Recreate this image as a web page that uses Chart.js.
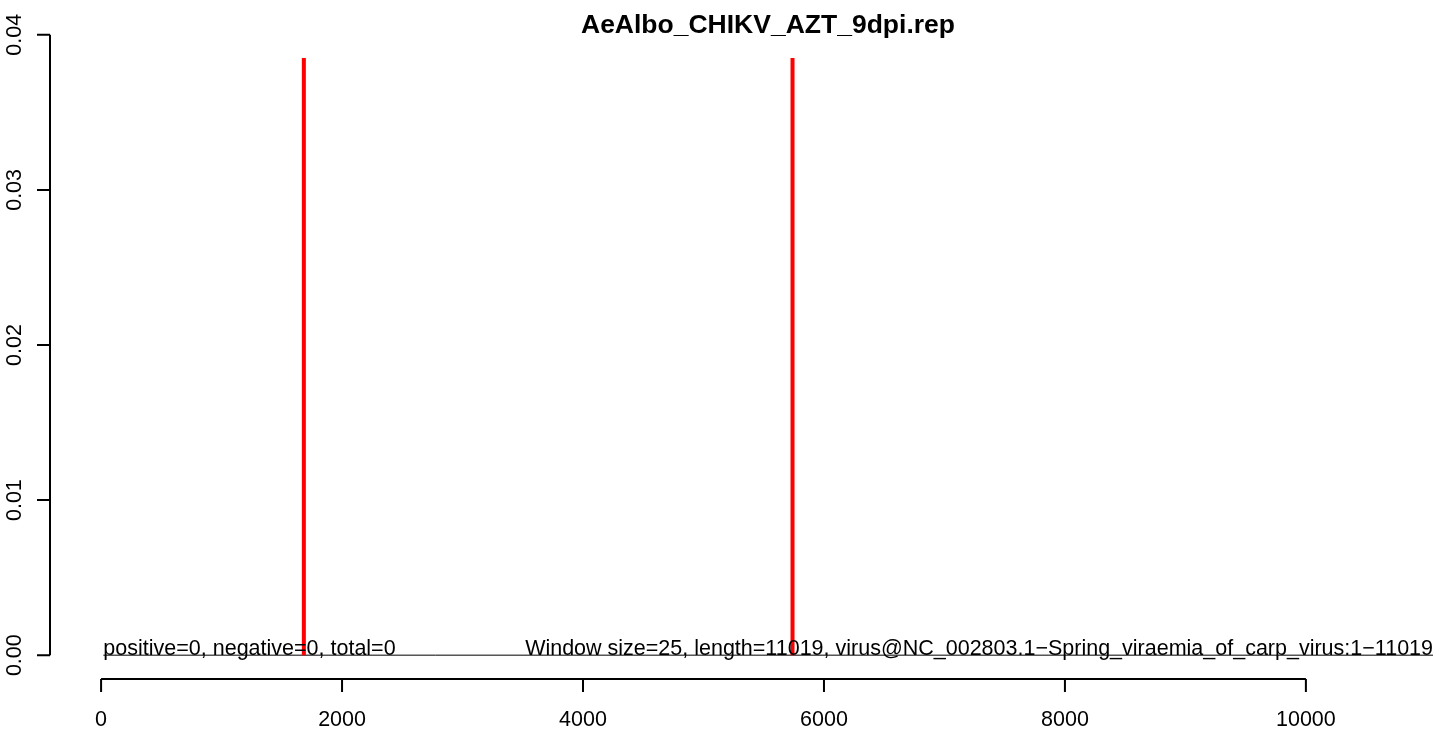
<!DOCTYPE html>
<html lang="en">

<head>
    <meta charset="UTF-8">
    <title>AeAlbo_CHIKV_AZT_9dpi.rep</title>
    <script src="https://cdn.jsdelivr.net/npm/chart.js"></script>
    <style>
        html, body { margin: 0; padding: 0; background: #ffffff; }
        canvas { display: block; }
    </style>
</head>

<body>
    <canvas id="grafico" width="1444" height="730"></canvas>
</body>

</html>
<script>
    // dados do gráfico
    var titulo = 'AeAlbo_CHIKV_AZT_9dpi.rep';
    var textoEsquerda = 'positive=0, negative=0, total=0';
    var textoDireita = 'Window size=25, length=11019, virus@NC_002803.1\u2212Spring_viraemia_of_carp_virus:1\u221211019';

    var posicoesPicos = [1683, 5739];
    var alturasPicos = [0.0385, 0.0385];

    var linhaZeroX = [19, 11055];
    var linhaZeroY = [0, 0];

    var ticksX = [0, 2000, 4000, 6000, 8000, 10000];
    var labelsX = ['0', '2000', '4000', '6000', '8000', '10000'];
    var ticksY = [0, 0.01, 0.02, 0.03, 0.04];
    var labelsY = ['0.00', '0.01', '0.02', '0.03', '0.04'];

    var fonte = '"Liberation Sans", Arial, Helvetica, sans-serif';

    // eixos no estilo do R: linha só entre o primeiro e o último tick
    const eixosR = {
        id: 'eixosR',
        afterDraw(chart) {
            var ctx = chart.ctx;
            var x = chart.scales.x;
            var y = chart.scales.y;
            var area = chart.chartArea;
            ctx.save();
            ctx.strokeStyle = '#000000';
            ctx.fillStyle = '#000000';
            ctx.lineWidth = 2;

            // eixo y
            var y0 = y.getPixelForValue(ticksY[0]);
            var y1 = y.getPixelForValue(ticksY[ticksY.length - 1]);
            ctx.beginPath();
            ctx.moveTo(area.left, y0);
            ctx.lineTo(area.left, y1);
            ticksY.forEach(v => {
                var py = y.getPixelForValue(v);
                ctx.moveTo(area.left, py);
                ctx.lineTo(area.left - 13, py);
            });
            ctx.stroke();
            ctx.font = '21.5px ' + fonte;
            ctx.textAlign = 'center';
            ctx.textBaseline = 'alphabetic';
            ticksY.forEach((v, i) => {
                var py = y.getPixelForValue(v);
                ctx.save();
                ctx.translate(21, py);
                ctx.rotate(-Math.PI / 2);
                ctx.fillText(labelsY[i], 0, 0);
                ctx.restore();
            });

            // eixo x
            var eixoY = area.bottom - 1;
            ctx.beginPath();
            ctx.moveTo(x.getPixelForValue(ticksX[0]), eixoY);
            ctx.lineTo(x.getPixelForValue(ticksX[ticksX.length - 1]), eixoY);
            ticksX.forEach(v => {
                var px = x.getPixelForValue(v);
                ctx.moveTo(px, eixoY);
                ctx.lineTo(px, eixoY + 13);
            });
            ctx.stroke();
            ticksX.forEach((v, i) => {
                ctx.fillText(labelsX[i], x.getPixelForValue(v), 726);
            });

            // textos sobre a linha zero
            var base = y.getPixelForValue(0);
            ctx.textAlign = 'left';
            ctx.fillText(textoEsquerda, x.getPixelForValue(linhaZeroX[0]), base);
            ctx.textAlign = 'right';
            ctx.fillText(textoDireita, x.getPixelForValue(linhaZeroX[1]), base);

            // título centrado na região do gráfico (que passa da borda direita)
            ctx.font = 'bold 26.5px ' + fonte;
            ctx.textAlign = 'center';
            ctx.fillText(titulo, 768, 33);
            ctx.restore();
        }
    };

    var datasets = [{
        label: 'zero',
        data: linhaZeroX.map((v, i) => ({ x: v, y: linhaZeroY[i] })),
        showLine: true,
        borderColor: '#000000',
        borderWidth: 1,
        pointRadius: 0,
        order: 1
    }];
    posicoesPicos.forEach((p, i) => {
        datasets.push({
            label: 'pico ' + (i + 1),
            data: [{ x: p, y: 0 }, { x: p, y: alturasPicos[i] }],
            showLine: true,
            borderColor: '#ff0000',
            borderWidth: 4,
            borderCapStyle: 'butt',
            pointRadius: 0,
            order: 0
        });
    });

    new Chart(document.getElementById('grafico'), {
        type: 'scatter',
        data: { datasets: datasets },
        options: {
            responsive: false,
            animation: false,
            devicePixelRatio: 1,
            layout: {
                padding: { left: 50, right: 11, top: 10, bottom: 50 }
            },
            scales: {
                x: { type: 'linear', min: -424, max: 11055, display: false },
                y: { type: 'linear', min: -0.0016, max: 0.0416, display: false }
            },
            plugins: {
                legend: { display: false },
                tooltip: { enabled: false },
                title: { display: false }
            }
        },
        plugins: [eixosR]
    });
</script>
